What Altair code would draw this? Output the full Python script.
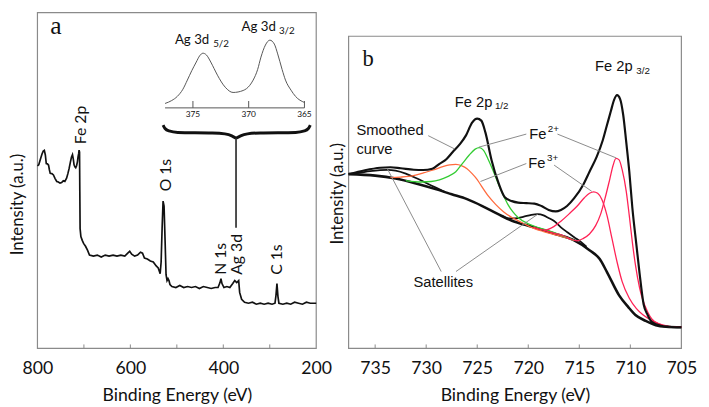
import altair as alt
import pandas as pd

# ---------------- Panel a : survey spectrum ----------------
survey = [(800,186),(797.2,187),(793.5,193),(790,198.3),(787.5,201),(785.2,201.7),(783,197),(781,188.3),
          (778.5,188),(776.1,186.7),(774.3,182),(772.5,178.3),(769,178),(765.6,176.7),(762,173),(758.4,170),
          (755,169.5),(751.4,168.3),(748,169),(744.4,170.7),(741,170),(737.3,173.3),(734.5,178),(731.8,183.3),
          (729,190),(726.7,195),(724.6,197.3),(722.9,193),(721.2,187),(719.4,185),(717.6,184),(715.8,186),
          (714,190),(712.6,195),(711.3,198.3),(710.4,202),(709.4,200),(708.8,160),(708.2,122),(706.5,114),
          (703.6,110),(700.7,107),(696.5,104),(692.3,100),(688,95),(679.6,94),(671.1,95),(662.7,93),
          (654.2,95),(645.8,94),(637.3,95),(628.9,94),(620.4,95),(612,94),(605.6,97),(601.4,99),(597.2,96),
          (590.8,94),(584.5,95),(578.2,98),(573.9,97),(569.7,92),(563.4,91),(557,89),(550.7,88),(544.4,84),
          (540.1,82),(538,79),(535.9,76),(533.8,88),(531.7,122),(529.6,150),(527.5,145),(525.3,110),
          (523.2,75),(521.1,69),(519,71),(516.9,69),(514.8,65),(510.6,63),(502.1,62),(493.6,64),(485.2,62),
          (476.8,63),(468.3,62),(459.9,63),(451.4,61),(443,63),(434.5,62),(426.1,61),(417.6,62),(411.3,62),
          (407.1,67),(405,71),(402.8,66),(398.6,62),(392.3,63),(385.9,62),(379.6,66),(375.3,69),(371.1,67),
          (366.9,69),(364.8,57),(360.6,50),(354.2,47),(345.8,46),(337.3,47),(328.9,45),(320.4,46),(312,45),
          (303.5,46),(295.1,45),(288.7,46),(286.6,54),(284.5,66),(282.4,53),(280.3,46),(271.8,45),(263.4,46),
          (254.9,45),(246.5,47),(238,46),(229.6,45),(221.1,47),(212.7,46),(204.2,46),(200,46)]

# inset (Ag 3d), energies in its own axis units
inset_Ei = [377.5,376.9,376.4,375.9,375.5,375.1,374.7,374.4,374.1,373.8,373.4,373.1,372.8,372.1,371.4,
            370.5,369.9,369.6,369.2,368.9,368.5,368.1,367.7,367.4,367.0,366.7,366.2,365.8,365.0]
inset_I = [249.5,252.5,256.7,264,273.3,283,291.7,298,300.7,299,291.7,285,278.3,266,260.7,262.7,268,
           273.3,284,296.7,309,314,310,300,284,273.3,263,256.7,250.5]
inset_ticks = [375, 370, 365]

def inset_to_E(ei):
    return 525.35 - (377.5 - ei) * 24.0

brace_left = [(529.6,227.5),(525.4,224),(516.9,221.5),(497.9,220),(423.9,219.5),(396.5,218.5),(381.7,216.5),(372.6,214)]
brace_right = [(372.6,214),(362.7,216.5),(347.9,218.5),(320.4,219.5),(244.4,220),(225.3,221.5),(216.9,224),(212.7,227.5)]

peak_labels = ["Fe 2p", "O 1s", "N 1s", "Ag 3d", "C 1s"]
peak_label_E = [707.0, 523.2, 405.0, 371.1, 284.5]
peak_label_I = [208, 160, 75, 75, 75]

inset_big = [("Ag 3d", 504.2, 310), ("Ag 3d", 360.6, 323)]
inset_sub = [("5/2", 421.8, 307), ("3/2", 280.3, 320)]

# ---------------- Panel b : Fe 2p high resolution ----------------
fe_total = [(737.6,177.5),(736.0,181.5),(734.5,184),(733.5,184.5),(732.5,183.5),(731.2,182),(730.3,181.7),
            (729.4,183),(728.7,188),(728.0,193),(727.4,200),(726.7,208),(726.1,217),(725.5,230),(725.0,234),
            (724.6,232),(724.2,220),(723.6,192),(722.9,168),(722.3,154),(721.6,150),(721.0,148.5),(720.2,148),
            (719.4,147.5),(718.7,145),(718.0,141),(717.3,139.5),(716.8,141),(716.2,145),(715.5,153),(714.6,167),
            (714.0,180),(713.3,195),(712.7,212),(712.3,227),(711.9,242),(711.6,253),(711.3,258),(711.0,254),
            (710.7,238),(710.4,210),(710.1,180),(709.8,143),(709.4,105),(709.1,77),(708.7,45),(708.3,34),
            (707.9,27),(707.0,23),(706.2,22),(705.0,21.5)]
fe_background = [(737.6,177.5),(735,176),(733,173),(731,168),(729,162),(727.5,157),(726,152),(724.5,145),
                 (723,137),(721.6,130),(720,125),(718.4,120),(717,115.5),(715.5,110),(714,100),(713,91),
                 (712.3,78),(711.1,54),(710.2,42),(709.5,34),(708.5,28),(707.5,23.5),(706.5,22),(705,21.5)]
fe2_2p12 = [(732,171),(730.5,169.5),(729.5,170),(728.7,171.7),(727.9,175),(727.1,180),(726.4,189),(725.8,196.7),
            (725.2,203),(724.8,204.5),(724.4,202),(723.9,192),(723.4,180),(722.9,166.7),(722.4,155),(722,146.7),
            (721.5,139),(721,133.3),(720,127),(719.1,123.3),(718,120),(716.5,114),(715.5,110)]
fe3_2p12 = [(733.5,174),(732.5,174.5),(731.25,176),(730.2,179),(729.3,181.7),(728.3,185.5),(727.7,187),
            (727.1,187.5),(726.5,186),(726,183),(725.5,178),(725,172),(724.5,164),(723.9,155),(723.2,146.7),
            (722.4,139),(721.6,133.3),(720.6,128),(719.7,123.3),(718.5,119),(717.1,115),(715.5,110)]
sat_left = [(737.6,177.5),(736.5,179),(735.5,180.5),(734.5,181.5),(733.8,181.8),(733,181),(732,178),
            (731,173.5),(730,168.5),(729,163.5),(728.2,159.5)]
sat_right = [(722.5,134.5),(722,132.5),(721.3,132.5),(720.5,134),(719.7,136),(719.1,136.7),(718.5,135.5),
             (718.1,133.3),(717.5,130),(716.8,123.3),(716.2,118.5),(715.5,113.3),(714.9,109),(714.3,103.5)]
fe3_2p32 = [(719.5,123.5),(718.4,120.5),(717.5,124),(716.8,129.5),(716,137),(715.2,145),(714.5,153.5),
            (714,158),(713.6,159.5),(713.2,158),(712.8,152),(712.3,136),(711.8,112),(711.3,88),(710.8,68),
            (710.1,51),(709.4,40.5),(708.8,34.5),(708,29),(707.2,25),(706.2,22.5),(705,21.5)]
fe2_2p32 = [(718.5,120.5),(717.5,117.5),(716.5,114.5),(715.8,111),(715.2,109.5),(714.6,112),(714,116.5),
            (713.4,125),(712.9,137),(712.4,156),(712,173),(711.7,186),(711.4,193.5),(711.1,192),(710.8,182),
            (710.4,160),(710.1,135),(709.8,108),(709.5,85),(709.1,62),(708.8,50),(708.3,37),(707.9,30),
            (707.2,25),(706.6,22.7),(705.5,21.5)]

leaders = [(729.8,216.7,727.24,203.3),(720.19,218.3,724.84,205),(717.14,218.3,711.38,194),
           (720.19,188.3,724.68,170),(717.47,186.7,713.78,160),(728.53,78.3,733.82,183.3),
           (727.08,78.3,719.07,136.7)]

b_big = [("Fe 2p",727.2,246),("Fe 2p",713.46,283),("Smoothed",736.83,217),("curve",736.83,198),
         ("Fe",719.9,213),("Fe",720.0,184),("Satellites",731.25,63)]
b_sub = [("1/2",723.27,244),("3/2",709.42,280),("2+",718.08,220),("3+",718.17,191)]

xa_labels = [800, 600, 400, 200]
xa_ticks = [700, 600, 500, 400, 300]
xb_labels = [735, 730, 725, 720, 715, 710, 705]
xb_ticks = [735, 730, 725, 720, 715, 710]

# ---------------- styling ----------------
W_A, W_B, H = 284, 339, 342
GRAY = "#8a8a8a"
INK = "#111111"
YS = alt.Scale(domain=[0, 342], nice=False, zero=False)
XA = alt.Scale(domain=[800, 200], nice=False, zero=False)
XB = alt.Scale(domain=[737.6, 705], nice=False, zero=False)


def x_axis(vals):
    return alt.Axis(values=vals, format="d", ticks=False, domain=False, grid=False, labelFlush=False,
                    labelFont="Lato", labelFontSize=18, labelColor=INK, labelPadding=12,
                    titleFont="Lato", titleFontSize=18, titleFontWeight="normal", titleColor=INK,
                    titlePadding=9)


def y_axis(pad, ty):
    return alt.Axis(labels=False, ticks=False, domain=False, grid=False, titleFont="Lato",
                    titleFontSize=17, titleFontWeight="normal", titleColor=INK, titlePadding=pad,
                    titleY=ty)


AXA, AXB = x_axis(xa_labels), x_axis(xb_labels)
AYA, AYB = y_axis(11, 195), y_axis(2, 184)


def XAe(f):
    return alt.X(f, type="quantitative", scale=XA, axis=AXA, title="Binding Energy (eV)")


def YAe(f):
    return alt.Y(f, type="quantitative", scale=YS, axis=AYA, title="Intensity (a.u.)")


def XBe(f):
    return alt.X(f, type="quantitative", scale=XB, axis=AXB, title="Binding Energy (eV)")


def YBe(f):
    return alt.Y(f, type="quantitative", scale=YS, axis=AYB, title="Intensity (a.u.)")


one = pd.DataFrame({"k": [0]})

# ---------------- panel a layers ----------------
df_s = pd.DataFrame(survey, columns=["E", "I"])
df_inset = pd.DataFrame({"E": [inset_to_E(e) for e in inset_Ei], "I": inset_I, "idx": range(len(inset_Ei))})
df_brace = pd.DataFrame([(e, i, "L", n) for n, (e, i) in enumerate(brace_left)] +
                        [(e, i, "R", n) for n, (e, i) in enumerate(brace_right)],
                        columns=["E", "I", "half", "idx"])

a_layers = [
    alt.Chart(one).mark_rect(fillOpacity=0, stroke=GRAY, strokeWidth=1.2).encode(
        x=alt.value(0), x2=alt.value(W_A), y=alt.value(0), y2=alt.value(H)),
    alt.Chart(pd.DataFrame({"E": xa_ticks})).mark_rule(color=GRAY, strokeWidth=1).encode(
        x=XAe("E"), y=alt.value(H), y2=alt.value(H - 4)),
    alt.Chart(df_s).mark_line(color=INK, strokeWidth=1.7).encode(x=XAe("E"), y=YAe("I")),
    alt.Chart(df_inset).mark_line(color="#555555", strokeWidth=1, interpolate="monotone").encode(
        x=XAe("E"), y=YAe("I"), order="idx:Q"),
    alt.Chart(pd.DataFrame({"E": [inset_to_E(377.5)], "E2": [inset_to_E(365)], "I": [245]})).mark_rule(
        color="#555555", strokeWidth=1).encode(x=XAe("E"), x2="E2", y=YAe("I")),
    alt.Chart(pd.DataFrame({"E": [inset_to_E(t) for t in inset_ticks], "I": 245, "I2": 252})).mark_rule(
        color="#555555", strokeWidth=1).encode(x=XAe("E"), y=YAe("I"), y2="I2"),
    alt.Chart(pd.DataFrame({"E": [inset_to_E(t) for t in inset_ticks], "I": 238.5,
                            "t": [str(t) for t in inset_ticks]})).mark_text(
        font="Lato", fontSize=8.5, color=INK, baseline="middle").encode(x=XAe("E"), y=YAe("I"), text="t"),
    alt.Chart(df_brace).mark_line(color=INK, strokeWidth=3, interpolate="monotone").encode(
        x=XAe("E"), y=YAe("I"), detail="half", order="idx:Q"),
    alt.Chart(pd.DataFrame({"E": [372.6], "I": [214], "I2": [123]})).mark_rule(color=INK, strokeWidth=1.5).encode(
        x=XAe("E"), y=YAe("I"), y2="I2"),
    alt.Chart(pd.DataFrame({"t": peak_labels, "E": peak_label_E, "I": peak_label_I})).mark_text(
        font="Lato", fontSize=16, color=INK, angle=270, align="left", baseline="middle").encode(
        x=XAe("E"), y=YAe("I"), text="t"),
    alt.Chart(pd.DataFrame(inset_big, columns=["t", "E", "I"])).mark_text(
        font="Lato", fontSize=13.5, color=INK, align="left", baseline="alphabetic").encode(
        x=XAe("E"), y=YAe("I"), text="t"),
    alt.Chart(pd.DataFrame(inset_sub, columns=["t", "E", "I"])).mark_text(
        font="Lato", fontSize=10, color=INK, align="left", baseline="alphabetic").encode(
        x=XAe("E"), y=YAe("I"), text="t"),
    alt.Chart(pd.DataFrame({"t": ["a"], "E": [772.5], "I": [320]})).mark_text(
        font="Liberation Serif", fontSize=26, color=INK, align="left", baseline="alphabetic").encode(
        x=XAe("E"), y=YAe("I"), text="t"),
]
panel_a = alt.layer(*a_layers).properties(width=W_A, height=H)

# ---------------- panel b layers ----------------
series = [
    (fe_background, INK, 2.6), (sat_left, INK, 1.8), (sat_right, INK, 1.8),
    (fe3_2p12, "#ff6a3d", 1.3), (fe2_2p12, "#33cc33", 1.3),
    (fe3_2p32, "#ff2255", 1.3), (fe2_2p32, "#ff2255", 1.3), (fe_total, INK, 2.2),
]
b_layers = [
    alt.Chart(one).mark_rect(fillOpacity=0, stroke=GRAY, strokeWidth=1.2).encode(
        x=alt.value(0), x2=alt.value(W_B), y=alt.value(24), y2=alt.value(H)),
    alt.Chart(pd.DataFrame({"E": xb_ticks})).mark_rule(color=GRAY, strokeWidth=1).encode(
        x=XBe("E"), y=alt.value(H), y2=alt.value(H - 4)),
    alt.Chart(pd.DataFrame({"I": [178]})).mark_rule(color=GRAY, strokeWidth=1).encode(
        x=alt.value(0), x2=alt.value(4), y=YBe("I")),
]
for pts, col, wd in series:
    d = pd.DataFrame(pts, columns=["E", "I"])
    d["idx"] = range(len(d))
    b_layers.append(alt.Chart(d).mark_line(color=col, strokeWidth=wd, interpolate="monotone").encode(
        x=XBe("E"), y=YBe("I"), order="idx:Q"))
b_layers += [
    alt.Chart(pd.DataFrame(leaders, columns=["E", "I", "E2", "I2"])).mark_rule(color=GRAY, strokeWidth=1).encode(
        x=XBe("E"), x2="E2", y=YBe("I"), y2="I2"),
    alt.Chart(pd.DataFrame(b_big, columns=["t", "E", "I"])).mark_text(
        font="Liberation Sans", fontSize=15, color=INK, align="left", baseline="alphabetic").encode(
        x=XBe("E"), y=YBe("I"), text="t"),
    alt.Chart(pd.DataFrame(b_sub, columns=["t", "E", "I"])).mark_text(
        font="Liberation Sans", fontSize=10, color=INK, align="left", baseline="alphabetic").encode(
        x=XBe("E"), y=YBe("I"), text="t"),
    alt.Chart(pd.DataFrame({"t": ["b"], "E": [736.25], "I": [288]})).mark_text(
        font="Liberation Serif", fontSize=23, color=INK, align="left", baseline="alphabetic").encode(
        x=XBe("E"), y=YBe("I"), text="t"),
]
panel_b = alt.layer(*b_layers).properties(width=W_B, height=H)

chart = alt.hconcat(panel_a, panel_b, spacing=33, bounds="flush").properties(
    padding={"left": 1, "top": 0, "right": 4, "bottom": 0}
).configure_view(strokeWidth=0)

chart.save("out.html", embed_options={"renderer": "svg", "actions": False})
